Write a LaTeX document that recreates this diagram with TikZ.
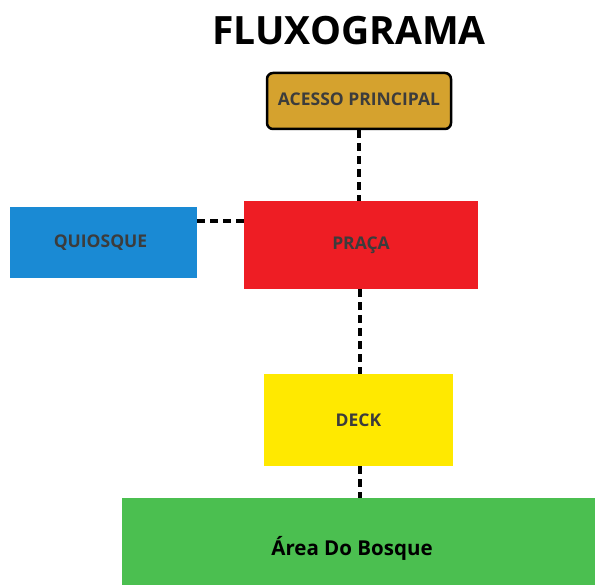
\documentclass[tikz,border=0pt]{standalone}
\usepackage{fontspec}
\setmainfont{Open Sans}
\definecolor{gold}{HTML}{D5A22E}
\definecolor{qblue}{HTML}{1A8AD4}
\definecolor{pred}{HTML}{EE1D24}
\definecolor{dyellow}{HTML}{FFE900}
\definecolor{bgreen}{HTML}{4BBF50}
\definecolor{txt}{HTML}{3C3C3C}
\begin{document}
\begin{tikzpicture}[x=1pt,y=-1pt,
  box/.style={draw=none, inner sep=0pt, font=\bfseries\fontsize{17.5}{20}\selectfont, text=txt},
  link/.style={line width=3.8pt, dash pattern=on 8pt off 5pt, black}]
\useasboundingbox (0,0) rectangle (595,585);
\node[font=\bfseries\fontsize{39}{44}\selectfont, text=black] (title) at (349,31) {FLUXOGRAMA};
\node[box, fill=gold, draw=black, line width=2.5pt, rounded corners=6pt, minimum width=184pt, minimum height=56pt] (acesso) at (359,101) {\raisebox{3pt}{ACESSO PRINCIPAL}};
\node[box, fill=pred, minimum width=234pt, minimum height=88pt] (praca) at (361,245) {PRAÇA};
\node[box, fill=qblue, minimum width=187pt, minimum height=71pt] (quiosque) at (103.5,242.5) {\hspace{-6pt}QUIOSQUE};
\node[box, fill=dyellow, minimum width=189pt, minimum height=92pt] (deck) at (358.5,420) {DECK};
\node[box, fill=bgreen, minimum width=480pt, minimum height=90pt] (bosque) at (362,543) {};
\node[font=\bfseries\fontsize{20.5}{24}\selectfont, text=black] (bosquetxt) at (352,548) {Área Do Bosque};
\draw[link] (acesso.south -| 359,0) -- (praca.north -| 359,0);
\draw[link] (quiosque.east |- 0,221) -- (praca.west |- 0,221);
\draw[link] (praca.south -| 360,0) -- (deck.north -| 360,0);
\draw[link] (deck.south -| 360,0) -- (bosque.north -| 360,0);
\end{tikzpicture}
\end{document}
